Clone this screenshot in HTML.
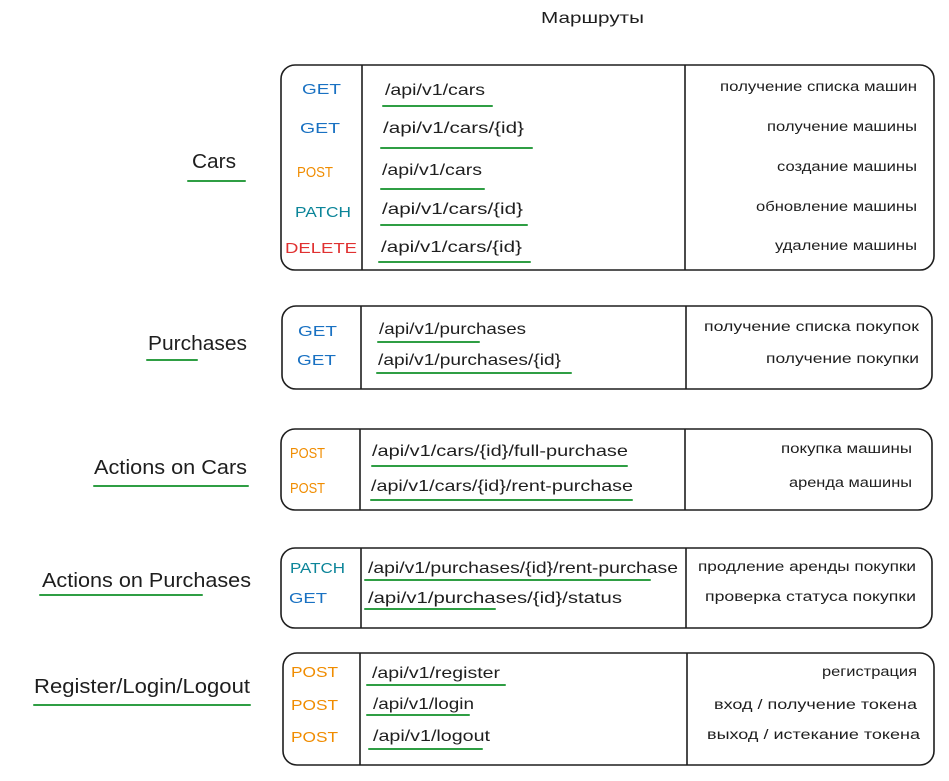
<!DOCTYPE html>
<html><head><meta charset="utf-8"><style>
html,body{margin:0;padding:0;background:#fff;}
svg{display:block;font-family:"Liberation Sans","DejaVu Sans",sans-serif;}
.m{font-size:15px;}
.p{font-size:16px;fill:#1e1e1e;}
.d{font-size:13.5px;fill:#1e1e1e;}
.l{font-size:20px;fill:#1e1e1e;}
.u{stroke:#2f9e44;stroke-width:2;stroke-linecap:round;}
.b{fill:none;stroke:#1e1e1e;stroke-width:1.6;}
.v{stroke:#1e1e1e;stroke-width:1.6;}
.G{fill:#1971c2}.P{fill:#f08c00}.A{fill:#0c8599}.D{fill:#e03131}
</style></head><body>
<svg width="949" height="781" viewBox="0 0 949 781" xmlns="http://www.w3.org/2000/svg">
<text x="541" y="23" font-size="16" fill="#1e1e1e" textLength="103" lengthAdjust="spacingAndGlyphs">Маршруты</text>

<text class="l" x="192" y="168" textLength="44" lengthAdjust="spacingAndGlyphs">Cars</text>
<line class="u" x1="188" y1="181" x2="245" y2="181"/>
<text class="l" x="148" y="350" textLength="99" lengthAdjust="spacingAndGlyphs">Purchases</text>
<line class="u" x1="147" y1="360" x2="197" y2="360"/>
<text class="l" x="94" y="474" textLength="153" lengthAdjust="spacingAndGlyphs">Actions on Cars</text>
<line class="u" x1="94" y1="486" x2="248" y2="486"/>
<text class="l" x="42" y="587" textLength="209" lengthAdjust="spacingAndGlyphs">Actions on Purchases</text>
<line class="u" x1="40" y1="595" x2="202" y2="595"/>
<text class="l" x="34" y="693" textLength="216" lengthAdjust="spacingAndGlyphs">Register/Login/Logout</text>
<line class="u" x1="34" y1="705" x2="250" y2="705"/>

<rect class="b" x="281" y="65" width="653" height="205" rx="14"/>
<line class="v" x1="362" y1="65" x2="362" y2="270"/><line class="v" x1="685" y1="65" x2="685" y2="270"/>
<text class="m G" x="302" y="94" textLength="39" lengthAdjust="spacingAndGlyphs">GET</text>
<text class="m G" x="300" y="133" textLength="40" lengthAdjust="spacingAndGlyphs">GET</text>
<text class="m P" x="297" y="177" textLength="36" lengthAdjust="spacingAndGlyphs">POST</text>
<text class="m A" x="295" y="217" textLength="56" lengthAdjust="spacingAndGlyphs">PATCH</text>
<text class="m D" x="285" y="253" textLength="72" lengthAdjust="spacingAndGlyphs">DELETE</text>
<text class="p" x="385" y="95" textLength="100" lengthAdjust="spacingAndGlyphs">/api/v1/cars</text>
<line class="u" x1="383" y1="106" x2="492" y2="106"/>
<text class="p" x="383" y="133" textLength="141" lengthAdjust="spacingAndGlyphs">/api/v1/cars/{id}</text>
<line class="u" x1="381" y1="148" x2="532" y2="148"/>
<text class="p" x="382" y="175" textLength="100" lengthAdjust="spacingAndGlyphs">/api/v1/cars</text>
<line class="u" x1="381" y1="189" x2="484" y2="189"/>
<text class="p" x="382" y="214" textLength="141" lengthAdjust="spacingAndGlyphs">/api/v1/cars/{id}</text>
<line class="u" x1="381" y1="225" x2="527" y2="225"/>
<text class="p" x="381" y="252" textLength="141" lengthAdjust="spacingAndGlyphs">/api/v1/cars/{id}</text>
<line class="u" x1="379" y1="262" x2="530" y2="262"/>
<text class="d" x="720" y="91" textLength="197" lengthAdjust="spacingAndGlyphs">получение списка машин</text>
<text class="d" x="767" y="131" textLength="150" lengthAdjust="spacingAndGlyphs">получение машины</text>
<text class="d" x="777" y="171" textLength="140" lengthAdjust="spacingAndGlyphs">создание машины</text>
<text class="d" x="756" y="211" textLength="161" lengthAdjust="spacingAndGlyphs">обновление машины</text>
<text class="d" x="775" y="250" textLength="142" lengthAdjust="spacingAndGlyphs">удаление машины</text>

<rect class="b" x="282" y="306" width="650" height="83" rx="14"/>
<line class="v" x1="361" y1="306" x2="361" y2="389"/><line class="v" x1="686" y1="306" x2="686" y2="389"/>
<text class="m G" x="298" y="336" textLength="39" lengthAdjust="spacingAndGlyphs">GET</text>
<text class="m G" x="297" y="365" textLength="39" lengthAdjust="spacingAndGlyphs">GET</text>
<text class="p" x="379" y="334" textLength="147" lengthAdjust="spacingAndGlyphs">/api/v1/purchases</text>
<line class="u" x1="378" y1="342" x2="479" y2="342"/>
<text class="p" x="378" y="365" textLength="183" lengthAdjust="spacingAndGlyphs">/api/v1/purchases/{id}</text>
<line class="u" x1="377" y1="373" x2="571" y2="373"/>
<text class="d" x="704" y="331" textLength="215" lengthAdjust="spacingAndGlyphs">получение списка покупок</text>
<text class="d" x="766" y="363" textLength="153" lengthAdjust="spacingAndGlyphs">получение покупки</text>

<rect class="b" x="281" y="429" width="651" height="81" rx="14"/>
<line class="v" x1="360" y1="429" x2="360" y2="510"/><line class="v" x1="685" y1="429" x2="685" y2="510"/>
<text class="m P" x="290" y="458" textLength="35" lengthAdjust="spacingAndGlyphs">POST</text>
<text class="m P" x="290" y="493" textLength="35" lengthAdjust="spacingAndGlyphs">POST</text>
<text class="p" x="372" y="456" textLength="256" lengthAdjust="spacingAndGlyphs">/api/v1/cars/{id}/full-purchase</text>
<line class="u" x1="372" y1="466" x2="627" y2="466"/>
<text class="p" x="371" y="491" textLength="262" lengthAdjust="spacingAndGlyphs">/api/v1/cars/{id}/rent-purchase</text>
<line class="u" x1="371" y1="500" x2="632" y2="500"/>
<text class="d" x="781" y="453" textLength="131" lengthAdjust="spacingAndGlyphs">покупка машины</text>
<text class="d" x="789" y="487" textLength="123" lengthAdjust="spacingAndGlyphs">аренда машины</text>

<rect class="b" x="281" y="548" width="651" height="80" rx="14"/>
<line class="v" x1="361" y1="548" x2="361" y2="628"/><line class="v" x1="686" y1="548" x2="686" y2="628"/>
<text class="m A" x="290" y="573" textLength="55" lengthAdjust="spacingAndGlyphs">PATCH</text>
<text class="m G" x="289" y="603" textLength="38" lengthAdjust="spacingAndGlyphs">GET</text>
<text class="p" x="368" y="573" textLength="310" lengthAdjust="spacingAndGlyphs">/api/v1/purchases/{id}/rent-purchase</text>
<line class="u" x1="365" y1="580" x2="650" y2="580"/>
<text class="p" x="368" y="603" textLength="254" lengthAdjust="spacingAndGlyphs">/api/v1/purchases/{id}/status</text>
<line class="u" x1="365" y1="609" x2="495" y2="609"/>
<text class="d" x="698" y="571" textLength="218" lengthAdjust="spacingAndGlyphs">продление аренды покупки</text>
<text class="d" x="705" y="601" textLength="211" lengthAdjust="spacingAndGlyphs">проверка статуса покупки</text>

<rect class="b" x="283" y="653" width="651" height="112" rx="14"/>
<line class="v" x1="360" y1="653" x2="360" y2="765"/><line class="v" x1="687" y1="653" x2="687" y2="765"/>
<text class="m P" x="291" y="677" textLength="47" lengthAdjust="spacingAndGlyphs">POST</text>
<text class="m P" x="291" y="710" textLength="47" lengthAdjust="spacingAndGlyphs">POST</text>
<text class="m P" x="291" y="742" textLength="47" lengthAdjust="spacingAndGlyphs">POST</text>
<text class="p" x="372" y="678" textLength="128" lengthAdjust="spacingAndGlyphs">/api/v1/register</text>
<line class="u" x1="367" y1="685" x2="505" y2="685"/>
<text class="p" x="373" y="709" textLength="101" lengthAdjust="spacingAndGlyphs">/api/v1/login</text>
<line class="u" x1="367" y1="715" x2="469" y2="715"/>
<text class="p" x="373" y="741" textLength="117" lengthAdjust="spacingAndGlyphs">/api/v1/logout</text>
<line class="u" x1="369" y1="749" x2="482" y2="749"/>
<text class="d" x="822" y="676" textLength="95" lengthAdjust="spacingAndGlyphs">регистрация</text>
<text class="d" x="714" y="709" textLength="203" lengthAdjust="spacingAndGlyphs">вход / получение токена</text>
<text class="d" x="707" y="739" textLength="213" lengthAdjust="spacingAndGlyphs">выход / истекание токена</text>
</svg>
</body></html>
